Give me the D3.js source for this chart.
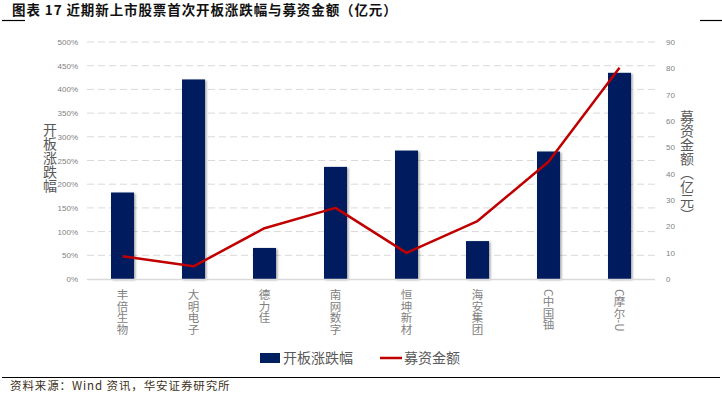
<!DOCTYPE html>
<html>
<head>
<meta charset="utf-8">
<script src="https://cdn.jsdelivr.net/npm/d3@7"></script>
<style>
  body { margin: 0; background: #fff; }
  svg { display: block; font-family: "Noto Sans CJK SC", "Liberation Sans", sans-serif; }
</style>
</head>
<body>
<div id="chart"></div>
<script>
// data
var stocks = ["丰倍生物", "大明电子", "德力佳", "南网数字", "恒坤新材", "海安集团", "C中国铀", "C摩尔-U"];
var openChange = [182.5, 421, 65.5, 236.5, 271, 80, 269, 435];   // %
var raised = [8.6, 4.8, 19.3, 27, 9.9, 22, 44.5, 80.2];          // 亿元
var leftTicks = [0, 50, 100, 150, 200, 250, 300, 350, 400, 450, 500];
var rightTicks = [0, 10, 20, 30, 40, 50, 60, 70, 80, 90];

var W = 722, H = 397;
var margin = {top: 42, right: 67, bottom: 118, left: 87};
var width = W - margin.left - margin.right,
    height = H - margin.top - margin.bottom;

var svg = d3.select("#chart").append("svg")
  .attr("width", W)
  .attr("height", H);

// bar shadow
var defs = svg.append("defs");
var f = defs.append("filter").attr("id", "shadow")
  .attr("x", "-20%").attr("y", "-5%").attr("width", "150%").attr("height", "120%");
f.append("feDropShadow").attr("dx", 1.5).attr("dy", 1).attr("stdDeviation", 1)
  .attr("flood-color", "#000").attr("flood-opacity", 0.35);

// title
svg.append("line").attr("x1", 2).attr("x2", 25).attr("y1", 20.5).attr("y2", 20.5)
  .attr("stroke", "#000").attr("stroke-width", 1.2);
svg.append("line").attr("x1", 700).attr("x2", 722).attr("y1", 20.5).attr("y2", 20.5)
  .attr("stroke", "#000").attr("stroke-width", 1.2);
svg.append("text")
  .attr("x", 12).attr("y", 15)
  .style("font-size", "13.5px").style("font-weight", "bold").style("fill", "#111")
  .style("letter-spacing", "0.9px")
  .text("图表 17 近期新上市股票首次开板涨跌幅与募资金额（亿元）");

var g = svg.append("g")
  .attr("transform", "translate(" + margin.left + "," + margin.top + ")");

var x = d3.scaleBand()
  .domain(stocks)
  .range([0, width])
  .paddingInner(0.676)
  .paddingOuter(0.338);

var yL = d3.scaleLinear().domain([0, 500]).range([height, 0]);
var yR = d3.scaleLinear().domain([0, 90]).range([height, 0]);

// gridlines
g.selectAll(".grid")
  .data(leftTicks.filter(function(d) { return d > 0; }))
  .enter().append("line")
    .attr("x1", 0).attr("x2", width)
    .attr("y1", function(d) { return yL(d); })
    .attr("y2", function(d) { return yL(d); })
    .attr("stroke", "#d9d9d9")
    .attr("stroke-dasharray", "7,4");

// left axis
var axL = g.append("g")
  .call(d3.axisLeft(yL).tickValues(leftTicks).tickSize(0).tickPadding(9)
    .tickFormat(function(d) { return d + "%"; }));
axL.select(".domain").remove();
axL.selectAll("text").style("font-family", "Liberation Sans, sans-serif")
  .style("font-size", "8px").style("fill", "#7f7f7f");

// right axis
var axR = g.append("g")
  .attr("transform", "translate(" + width + ",0)")
  .call(d3.axisRight(yR).tickValues(rightTicks).tickSize(0).tickPadding(11));
axR.select(".domain").remove();
axR.selectAll("text").style("font-family", "Liberation Sans, sans-serif")
  .style("font-size", "8px").style("fill", "#7f7f7f");

// bars
g.selectAll(".bar")
  .data(openChange)
  .enter().append("rect")
    .attr("x", function(d, i) { return x(stocks[i]); })
    .attr("y", function(d) { return yL(d); })
    .attr("width", x.bandwidth())
    .attr("height", function(d) { return height - yL(d); })
    .attr("fill", "#001f5f")
    .attr("filter", "url(#shadow)");

// baseline
g.append("line")
  .attr("x1", 0).attr("x2", width)
  .attr("y1", height + 0.5).attr("y2", height + 0.5)
  .attr("stroke", "#d9d9d9").attr("stroke-width", 1.5);

// line
var line = d3.line()
  .x(function(d, i) { return x(stocks[i]) + x.bandwidth() / 2; })
  .y(function(d) { return yR(d); });
g.append("path")
  .datum(raised)
  .attr("d", line)
  .attr("fill", "none")
  .attr("stroke", "#c00000")
  .attr("stroke-width", 2.5)
  .attr("stroke-linejoin", "round");

// category labels, vertical
g.selectAll(".cat")
  .data(stocks)
  .enter().append("text")
    .attr("x", function(d) { return x(d) + x.bandwidth() / 2; })
    .attr("y", height + 10)
    .style("writing-mode", "vertical-rl")
    .style("font-size", "11.5px")
    .style("fill", "#7f7f7f")
    .text(function(d) { return d; });

// axis titles
svg.append("text")
  .attr("x", 50).attr("y", 123)
  .style("writing-mode", "vertical-rl")
  .style("font-size", "14px").style("fill", "#595959")
  .text("开板涨跌幅");
svg.append("text")
  .attr("x", 687).attr("y", 110)
  .style("writing-mode", "vertical-rl")
  .style("font-size", "14px").style("fill", "#595959")
  .text("募资金额（亿元）");

// legend
var leg = svg.append("g").attr("transform", "translate(260,358)");
leg.append("rect").attr("x", 0).attr("y", -5).attr("width", 20).attr("height", 10)
  .attr("fill", "#001f5f");
leg.append("text").attr("x", 23).attr("y", 5)
  .style("font-size", "14px").style("fill", "#595959").text("开板涨跌幅");
leg.append("line").attr("x1", 120).attr("x2", 142).attr("y1", 0).attr("y2", 0)
  .attr("stroke", "#c00000").attr("stroke-width", 2.5);
leg.append("text").attr("x", 144).attr("y", 5)
  .style("font-size", "14px").style("fill", "#595959").text("募资金额");

// source
svg.append("line").attr("x1", 2).attr("x2", 720).attr("y1", 377.5).attr("y2", 377.5)
  .attr("stroke", "#000").attr("stroke-width", 1);
svg.append("text")
  .attr("x", 10).attr("y", 390)
  .style("font-size", "11.5px").style("fill", "#3d3020")
  .style("letter-spacing", "0.9px")
  .text("资料来源：Wind 资讯，华安证券研究所");
</script>
</body>
</html>
